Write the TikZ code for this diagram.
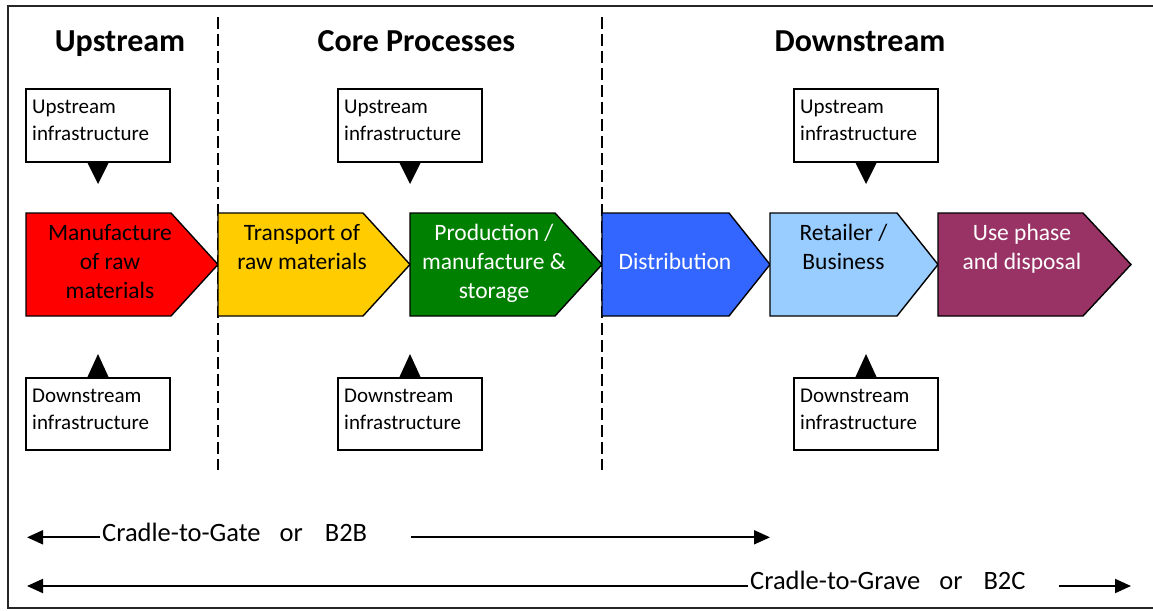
\documentclass[tikz,border=0pt]{standalone}
\usepackage{fontspec}
\setmainfont{Carlito}
\usetikzlibrary{arrows.meta}
\definecolor{cred}{HTML}{FF0000}
\definecolor{cyellow}{HTML}{FFCC00}
\definecolor{cgreen}{HTML}{008000}
\definecolor{cblue}{HTML}{3366FF}
\definecolor{clight}{HTML}{99CCFF}
\definecolor{cpurple}{HTML}{993366}
\begin{document}
\begin{tikzpicture}[x=1pt,y=-1pt,
  frame/.style={line width=2pt, draw=black!85},
  divider/.style={line width=1.6pt, dash pattern=on 12pt off 5pt},
  chev/.style={draw=black, line width=1.4pt, line join=miter},
  chevtext/.style={font=\fontsize{23.5}{29}\selectfont, align=center, inner sep=0pt, anchor=north},
  chevone/.style={font=\fontsize{23.5}{29}\selectfont, inner sep=0pt, anchor=base},
  title/.style={font=\fontsize{32}{38}\selectfont\bfseries, anchor=base, inner sep=0pt},
  infobox/.style={draw=black, line width=1.4pt, fill=white, minimum width=144pt, minimum height=73pt, anchor=north west, inner sep=0pt, outer sep=0pt},
  infotext/.style={font=\fontsize{21}{26.5}\selectfont, align=left, anchor=north west, inner sep=0pt},
  pointer/.style={fill=black},
  span/.style={line width=2pt, -{Triangle[length=16pt,width=14pt]}},
  spantext/.style={font=\fontsize{26.5}{32}\selectfont, anchor=base west, inner sep=2pt},
]
\useasboundingbox (0,0) rectangle (1153,610);
\fill[white] (0,0) rectangle (1153,610);

% frame
\draw[frame] (1153,6) -- (8,6) -- (8,608) -- (1153,608);

% dividers
\draw[divider] (218,17) -- (218,470);
\draw[divider] (602,17) -- (602,470);

% titles
\node[title] (tup) at (120,52) {Upstream};
\node[title] (tcore) at (416.5,52) {Core Processes};
\node[title] (tdown) at (860,52) {Downstream};

% chevrons
\draw[chev, fill=cred] (26,213) -- (171,213) -- (218,264.5) -- (171,316) -- (26,316) -- cycle;
\draw[chev, fill=cyellow] (218,213) -- (363,213) -- (410,264.5) -- (363,316) -- (218,316) -- cycle;
\draw[chev, fill=cgreen] (410,213) -- (555,213) -- (602,264.5) -- (555,316) -- (410,316) -- cycle;
\draw[chev, fill=cblue] (602,213) -- (729,213) -- (770,264.5) -- (729,316) -- (602,316) -- cycle;
\draw[chev, fill=clight] (770,213) -- (897,213) -- (938,264.5) -- (897,316) -- (770,316) -- cycle;
\draw[chev, fill=cpurple] (938,213) -- (1083,213) -- (1131,264.5) -- (1083,316) -- (938,316) -- cycle;

\node[chevtext] (s1) at (110,224) {Manufacture\\of raw\\materials};
\node[chevtext] (s2) at (302,224) {Transport of\\raw materials};
\node[chevtext, text=white] (s3) at (494,224) {Production /\\manufacture \&\\storage};
\node[chevone, text=white] (s4) at (675,269.5) {Distribution};
\node[chevtext] (s5) at (843.5,224) {Retailer /\\Business};
\node[chevtext, text=white] (s6) at (1022,224) {Use phase\\and disposal};

% upstream infrastructure boxes
\foreach \n/\x in {ua/26, ub/338, uc/794} {
  \node[infobox] (\n) at (\x,89) {};
  \fill[pointer] ([xshift=-11pt]\n.south) -- ([xshift=11pt]\n.south) -- ([yshift=-22pt]\n.south) -- cycle;
  \node[infotext] (\n t) at ([xshift=6pt,yshift=-11pt]\n.north west) {Upstream\\infrastructure};
}
% downstream infrastructure boxes
\foreach \n/\x in {da/26, db/338, dc/794} {
  \fill[pointer] ([xshift=-11pt]\x+72,378) -- (\x+83,378) -- (\x+72,354) -- cycle;
  \node[infobox, minimum height=72pt] (\n) at (\x,378) {};
  \node[infotext] (\n t) at ([xshift=6pt,yshift=-11pt]\n.north west) {Downstream\\infrastructure};
}

% spans
\node[spantext] (gate) at (100,541.5) {Cradle-to-Gate\hspace{19pt}or\hspace{22pt}B2B};
\coordinate (gateL) at (27,537.3);
\coordinate (gateRs) at (411,537.3);
\coordinate (gateRe) at (770,537.3);
\draw[span] (gate.west |- gateL) -- (gateL);
\draw[span] (gateRs) -- (gateRe);

\node[spantext] (grave) at (748,589) {Cradle-to-Grave\hspace{19pt}or\hspace{21pt}B2C};
\coordinate (graveL) at (27,586);
\coordinate (graveRs) at (1059,586);
\coordinate (graveRe) at (1131,586);
\draw[span] (grave.west |- graveL) -- (graveL);
\draw[span] (graveRs) -- (graveRe);
\end{tikzpicture}
\end{document}
